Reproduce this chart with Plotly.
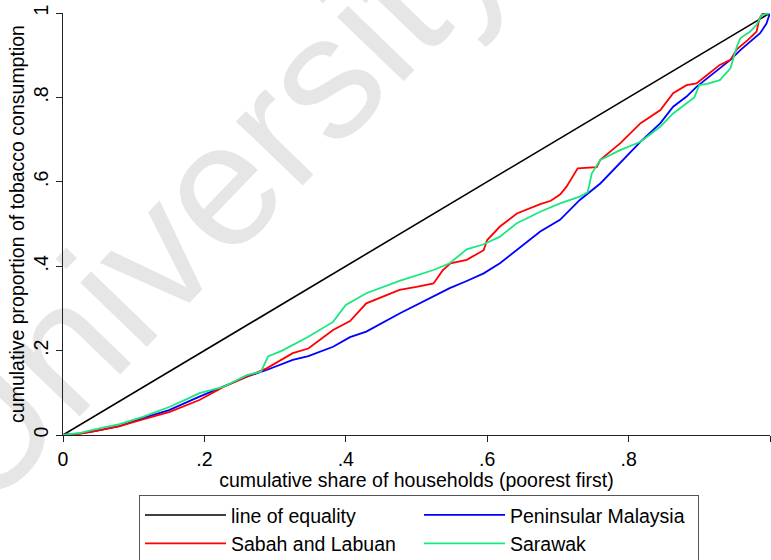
import plotly.graph_objects as go

# Concentration curves of tobacco consumption by region
eq_x = [0.0, 1.0]
eq_y = [0.0, 1.0]

pen_x = [0, 0.025, 0.05, 0.08, 0.113, 0.15, 0.193, 0.227, 0.26, 0.288, 0.325, 0.347,
         0.382, 0.406, 0.429, 0.476, 0.524, 0.547, 0.571, 0.595, 0.618, 0.642, 0.675,
         0.703, 0.731, 0.76, 0.788, 0.817, 0.845, 0.863, 0.882, 0.896, 0.911, 0.929,
         0.944, 0.958, 0.972, 0.986, 0.995, 1.0]
pen_y = [0, 0.004, 0.011, 0.021, 0.040, 0.059, 0.091, 0.114, 0.138, 0.154, 0.178, 0.187,
         0.209, 0.232, 0.245, 0.288, 0.328, 0.348, 0.365, 0.383, 0.407, 0.438, 0.482,
         0.51, 0.557, 0.596, 0.644, 0.695, 0.739, 0.778, 0.802, 0.825, 0.845, 0.869,
         0.889, 0.912, 0.932, 0.952, 0.975, 1.0]

sab_x = [0, 0.025, 0.042, 0.08, 0.113, 0.151, 0.193, 0.227, 0.26, 0.288, 0.325, 0.347,
         0.382, 0.406, 0.429, 0.476, 0.50, 0.524, 0.537, 0.548, 0.571, 0.595, 0.600,
         0.618, 0.642, 0.675, 0.69, 0.703, 0.712, 0.72, 0.728, 0.755, 0.76, 0.788,
         0.817, 0.845, 0.863, 0.882, 0.896, 0.911, 0.929, 0.944, 0.953, 0.968, 0.981,
         0.985, 0.99, 1.0]
sab_y = [0, 0.003, 0.008, 0.021, 0.037, 0.055, 0.083, 0.114, 0.138, 0.158, 0.194, 0.205,
         0.249, 0.27, 0.312, 0.344, 0.351, 0.359, 0.39, 0.407, 0.415, 0.438, 0.462,
         0.494, 0.525, 0.547, 0.555, 0.57, 0.588, 0.61, 0.632, 0.635, 0.652, 0.691,
         0.739, 0.770, 0.81, 0.829, 0.833, 0.853, 0.877, 0.889, 0.914, 0.935, 0.956,
         0.987, 1.0, 1.0]

sar_x = [0, 0.025, 0.042, 0.08, 0.113, 0.151, 0.175, 0.193, 0.227, 0.26, 0.28, 0.29,
         0.31, 0.325, 0.347, 0.382, 0.40, 0.429, 0.476, 0.524, 0.547, 0.571, 0.595,
         0.618, 0.642, 0.675, 0.703, 0.731, 0.742, 0.748, 0.76, 0.788, 0.817, 0.845,
         0.863, 0.882, 0.893, 0.9, 0.911, 0.929, 0.944, 0.953, 0.958, 0.972, 0.981,
         0.988, 1.0]
sar_y = [0, 0.005, 0.012, 0.026, 0.043, 0.067, 0.085, 0.099, 0.114, 0.142, 0.150, 0.186,
         0.200, 0.213, 0.233, 0.268, 0.308, 0.336, 0.365, 0.391, 0.407, 0.44, 0.452,
         0.47, 0.502, 0.529, 0.549, 0.565, 0.575, 0.62, 0.652, 0.675, 0.695, 0.731,
         0.762, 0.786, 0.80, 0.829, 0.832, 0.841, 0.869, 0.92, 0.94, 0.956, 0.972,
         0.995, 1.0]

tick_vals = [0, 0.2, 0.4, 0.6, 0.8, 1]
tick_text = ["0", ".2", ".4", ".6", ".8", "1"]

FONT = "Arial, Liberation Sans, sans-serif"
FS = 19.5

fig = go.Figure()
fig.add_trace(go.Scatter(x=eq_x, y=eq_y, mode="lines", name="line of equality",
                         line=dict(color="#000000", width=1.6)))
fig.add_trace(go.Scatter(x=pen_x, y=pen_y, mode="lines", name="Peninsular Malaysia",
                         line=dict(color="#0000ff", width=1.8)))
fig.add_trace(go.Scatter(x=sab_x, y=sab_y, mode="lines", name="Sabah and Labuan",
                         line=dict(color="#ff0000", width=1.8)))
fig.add_trace(go.Scatter(x=sar_x, y=sar_y, mode="lines", name="Sarawak",
                         line=dict(color="#19e880", width=1.8)))

axis_common = dict(
    range=[0, 1], tickvals=tick_vals, ticktext=tick_text,
    showgrid=False, zeroline=False, showline=True, linecolor="#222222", linewidth=1.2,
    ticks="outside", ticklen=6, tickcolor="#222222", tickwidth=1.2,
    tickfont=dict(family=FONT, size=FS, color="#000000"),
)

fig.update_layout(
    width=771, height=560,
    margin=dict(l=63, r=1, t=13, b=125),
    paper_bgcolor="white", plot_bgcolor="white",
    font=dict(family=FONT, size=FS, color="#000000"),
    xaxis=dict(axis_common,
               title=dict(text="cumulative share of households (poorest first)",
                          font=dict(family=FONT, size=FS), standoff=0)),
    yaxis=dict(axis_common, tickangle=-90,
               title=dict(text="cumulative proportion of tobacco consumption",
                          font=dict(family=FONT, size=FS), standoff=0)),
    legend=dict(orientation="h", xref="paper", x=0.1075, xanchor="left",
                yref="container", y=0.1165, yanchor="top",
                bordercolor="#555555", borderwidth=1, bgcolor="white",
                itemwidth=81, entrywidth=183, entrywidthmode="pixels",
                font=dict(family=FONT, size=FS, color="#000000")),
    showlegend=True,
    # faint watermark text kept beneath the axes and curves
    shapes=[dict(type="rect", xref="paper", yref="paper",
                 x0=0.176, x1=0.196, y0=0.58, y1=0.60, layer="below",
                 line=dict(width=0), fillcolor="rgba(0,0,0,0)",
                 label=dict(text="University", textangle=-46,
                            textposition="middle center",
                            font=dict(family=FONT, size=175, color="#e6e6e6")))],
)

fig.write_html("out.html")
